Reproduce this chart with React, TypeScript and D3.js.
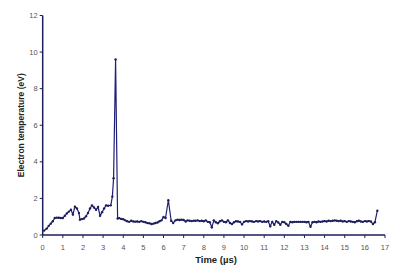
import React from "react";
import * as d3 from "d3";

const times = [
  0.07, 0.2, 0.3, 0.4, 0.5, 0.6, 0.7, 0.8, 0.9, 1.0, 1.1, 1.2, 1.3, 1.4, 1.5, 1.6, 1.7, 1.8, 1.85, 1.95,
  2.05, 2.15, 2.25, 2.35, 2.45, 2.55, 2.65, 2.75, 2.85, 2.95, 3.05, 3.15, 3.25, 3.38, 3.46, 3.52, 3.62, 3.72, 3.8, 3.9,
  4.0, 4.1, 4.2, 4.3, 4.4, 4.5, 4.6, 4.7, 4.8, 4.9, 5.0, 5.1, 5.2, 5.3, 5.4, 5.5, 5.6, 5.7, 5.8, 5.9,
  6.0, 6.1, 6.24, 6.38, 6.48, 6.6, 6.7, 6.8, 6.9, 7.0, 7.1, 7.2, 7.3, 7.4, 7.5, 7.6, 7.7, 7.8, 7.9,
  8.0, 8.1, 8.2, 8.3, 8.4, 8.5, 8.6, 8.7, 8.8, 8.9, 9.0, 9.1, 9.2, 9.3, 9.4, 9.5, 9.6, 9.7, 9.8, 9.9,
  10.0, 10.1, 10.2, 10.3, 10.4, 10.5, 10.6, 10.7, 10.8, 10.9, 11.0, 11.1, 11.2, 11.3, 11.4, 11.5, 11.6, 11.7, 11.8, 11.9,
  12.0, 12.1, 12.2, 12.3, 12.4, 12.5, 12.6, 12.7, 12.8, 12.9, 13.0, 13.1, 13.2, 13.3, 13.4, 13.5, 13.6, 13.7, 13.8, 13.9,
  14.0, 14.1, 14.2, 14.3, 14.4, 14.5, 14.6, 14.7, 14.8, 14.9, 15.0, 15.1, 15.2, 15.3, 15.4, 15.5, 15.6, 15.7, 15.8, 15.9,
  16.0, 16.1, 16.2, 16.3, 16.4, 16.5, 16.62,
];

const temps = [
  0.24, 0.35, 0.5, 0.62, 0.75, 0.93, 0.95, 0.94, 0.93, 0.93, 1.05, 1.18, 1.28, 1.38, 1.12, 1.55, 1.45, 1.2, 0.84, 0.87,
  0.9, 1.02, 1.2, 1.45, 1.62, 1.5, 1.38, 1.53, 1.05, 1.25, 1.45, 1.62, 1.6, 1.62, 2.1, 3.1, 9.6, 0.9, 0.92, 0.88,
  0.86, 0.8, 0.75, 0.72, 0.78, 0.74, 0.73, 0.74, 0.72, 0.76, 0.72, 0.7, 0.65, 0.64, 0.6, 0.62, 0.66, 0.68, 0.75, 0.8,
  0.98, 0.93, 1.9, 0.78, 0.66, 0.8, 0.84, 0.82, 0.84, 0.82, 0.74, 0.8, 0.78, 0.76, 0.78, 0.78, 0.8, 0.76, 0.78,
  0.75, 0.8, 0.72, 0.7, 0.42, 0.8, 0.7, 0.64, 0.75, 0.8, 0.72, 0.7, 0.8, 0.66, 0.6, 0.7, 0.75, 0.74, 0.72, 0.58,
  0.72, 0.76, 0.74, 0.76, 0.74, 0.72, 0.76, 0.74, 0.76, 0.72, 0.74, 0.72, 0.75, 0.48, 0.72, 0.56, 0.76, 0.68, 0.56, 0.72,
  0.7, 0.6, 0.5, 0.72, 0.7, 0.72, 0.72, 0.72, 0.72, 0.72, 0.72, 0.7, 0.72, 0.45, 0.7, 0.72, 0.7, 0.74, 0.72, 0.74,
  0.76, 0.74, 0.78, 0.76, 0.78, 0.8, 0.78, 0.76, 0.78, 0.74, 0.76, 0.72, 0.76, 0.74, 0.72, 0.7, 0.75, 0.78, 0.74, 0.72,
  0.76, 0.74, 0.76, 0.74, 0.6, 0.7, 1.33,
];

const xTicks = [0, 1, 2, 3, 4, 5, 6, 7, 8, 9, 10, 11, 12, 13, 14, 15, 16, 17];
const yTicks = [0, 2, 4, 6, 8, 10, 12];

const W = 400;
const H = 272;
const axisColor = "#1e1e5a";
const lineColor = "#1f1f78";
const font = "'Liberation Sans', Arial, sans-serif";

export default function App() {
  const x = d3.scaleLinear().domain([0, 17]).range([42.7, 385]);
  const y = d3.scaleLinear().domain([0, 12]).range([235, 15.5]);
  const data = times.map((t, i) => ({ t, v: temps[i] }));
  const line = d3
    .line<{ t: number; v: number }>()
    .x((d) => x(d.t))
    .y((d) => y(d.v));

  return (
    <svg
      width={W}
      height={H}
      style={{ position: "absolute", left: 0, top: 0, background: "#fff" }}
    >
      {/* y axis */}
      <line x1={x(0)} x2={x(0)} y1={y(12)} y2={y(0)} stroke={axisColor} strokeWidth={1.5} />
      {yTicks.map((v) => (
        <g key={"y" + v}>
          <line x1={x(0) - 3} x2={x(0)} y1={y(v)} y2={y(v)} stroke={axisColor} strokeWidth={1} />
          <text
            x={x(0) - 5}
            y={y(v)}
            dy="0.35em"
            textAnchor="end"
            fontSize={7.5}
            fontFamily={font}
            fill="#555"
          >
            {v}
          </text>
        </g>
      ))}
      {/* x axis */}
      <line x1={x(0)} x2={x(17)} y1={y(0)} y2={y(0)} stroke={axisColor} strokeWidth={1.5} />
      {xTicks.map((t) => (
        <g key={"x" + t}>
          <line x1={x(t)} x2={x(t)} y1={y(0)} y2={y(0) + 3} stroke={axisColor} strokeWidth={1} />
          <text
            x={x(t)}
            y={y(0) + 15}
            textAnchor="middle"
            fontSize={7.5}
            fontFamily={font}
            fill="#555"
          >
            {t}
          </text>
        </g>
      ))}
      {/* axis titles */}
      <text
        transform={`translate(24, ${(y(0) + y(12)) / 2}) rotate(-90)`}
        textAnchor="middle"
        fontSize={8.5}
        fontWeight="bold"
        fontFamily={font}
        fill="#222"
      >
        Electron temperature (eV)
      </text>
      <text
        x={216}
        y={263}
        textAnchor="middle"
        fontSize={9.5}
        fontWeight="bold"
        fontFamily={font}
        fill="#222"
      >
        Time (µs)
      </text>
      {/* data */}
      <path d={line(data) || ""} fill="none" stroke={lineColor} strokeWidth={1.2} />
      {data.map((d, i) => (
        <circle key={i} cx={x(d.t)} cy={y(d.v)} r={1.2} fill={axisColor} />
      ))}
    </svg>
  );
}
